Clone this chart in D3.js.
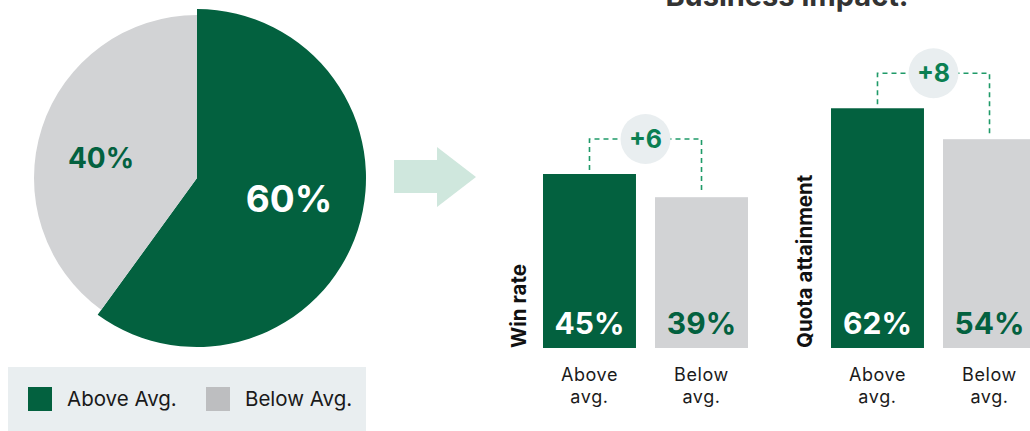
<!DOCTYPE html>
<html><head><meta charset="utf-8">
<script src="https://cdn.jsdelivr.net/npm/d3@7"></script>
<style>body{margin:0;background:#fff}svg{display:block}text{font-family:Inter,"Open Sans",sans-serif}</style>
</head><body><svg id="c" width="1030" height="431"></svg>
<script>
const pieLabels = ["Above Avg.", "Below Avg."];
const pieValues = [60, 40];
const barCategories = ["Above avg.", "Below avg."];
const winRate = [45, 39];
const quota = [62, 54];
const metricTitles = ["Win rate", "Quota attainment"];
const diffLabels = ["+6", "+8"];
const title = "Business impact:";

const GREEN = "#03613f", GREY = "#d2d3d5", LGREY = "#bdbec0", BG = "#e9eef0", DASH = "#1f9a68", TGREEN = "#0a7f52";
const svg = d3.select("#c");

// Pie
const cx = 197, cy = 178;
const pie = d3.pie().sort(null).value(d => d)(pieValues);
const radii = [169, 163];
const pg = svg.append("g").attr("transform", `translate(${cx},${cy})`);
pg.selectAll("path").data(pie).join("path")
  .attr("d", (d, i) => d3.arc().innerRadius(0).outerRadius(radii[i])(d))
  .attr("fill", (d, i) => i === 0 ? GREEN : GREY);
pg.append("text").attr("x", 92).attr("y", 34).attr("text-anchor", "middle")
  .attr("font-size", 37).attr("font-weight", 700).attr("fill", "#fff").text(pieValues[0] + "%");
pg.append("text").attr("x", -96).attr("y", -10).attr("text-anchor", "middle")
  .attr("font-size", 28).attr("font-weight", 700).attr("fill", GREEN).text(pieValues[1] + "%");

// Legend
svg.append("rect").attr("x", 8).attr("y", 367).attr("width", 358).attr("height", 64).attr("fill", BG);
const lx = [28, 206];
pieLabels.forEach((l, i) => {
  svg.append("rect").attr("x", lx[i]).attr("y", 387).attr("width", 24).attr("height", 24).attr("fill", i === 0 ? GREEN : LGREY);
  svg.append("text").attr("x", lx[i] + 39).attr("y", 406).attr("font-size", 20.5).attr("fill", "#1a1a1a").text(l);
});

// Arrow
svg.append("path").attr("d", "M394,160 L437,160 L437,147 L476,177 L437,207 L437,193 L394,193 Z").attr("fill", "#cfe7dd");

// Title
svg.append("text").attr("x", 787).attr("y", 6).attr("text-anchor", "middle").attr("font-size", 29)
  .attr("font-weight", 700).attr("fill", "#333").text(title);

// Bars
const y = d3.scaleLinear().domain([0, 90]).range([348, 0]);
const groups = [{vals: winRate, x0: 543, t: metricTitles[0], d: diffLabels[0], tx: 526},
                {vals: quota, x0: 831, t: metricTitles[1], d: diffLabels[1], tx: 812}];
groups.forEach(g => {
  const x = d3.scaleBand().domain(barCategories).range([g.x0, g.x0 + 205]).paddingInner(0.17).paddingOuter(0);
  const gg = svg.append("g");
  gg.selectAll("rect").data(g.vals).join("rect")
    .attr("x", (d, i) => x(barCategories[i])).attr("width", x.bandwidth())
    .attr("y", d => y(d)).attr("height", d => y(0) - y(d))
    .attr("fill", (d, i) => i === 0 ? GREEN : GREY);
  gg.selectAll("text.v").data(g.vals).join("text").attr("class", "v")
    .attr("x", (d, i) => x(barCategories[i]) + x.bandwidth() / 2).attr("y", 334)
    .attr("text-anchor", "middle").attr("font-size", 30).attr("font-weight", 700)
    .attr("fill", (d, i) => i === 0 ? "#fff" : GREEN).text(d => d + "%");
  barCategories.forEach((c, i) => {
    c.split(" ").forEach((p, j) => gg.append("text").attr("text-anchor", "middle")
      .attr("font-size", 18).attr("letter-spacing", 0.6).attr("fill", "#1a1a1a")
      .attr("x", x(c) + x.bandwidth() / 2).attr("y", 381 + j * 22).text(p));
  });
  // axis title
  gg.append("text").attr("transform", `translate(${g.tx},348) rotate(-90)`).attr("font-size", 20.5)
    .attr("font-weight", 700).attr("fill", "#111").text(g.t);
  // bracket
  const xa = x(barCategories[0]) + x.bandwidth() / 2, xb = x(barCategories[1]) + x.bandwidth() / 2;
  const top = y(d3.max(g.vals)) - 35;
  gg.append("path").attr("d", `M${xa},${y(g.vals[0]) - 4} L${xa},${top} L${xb},${top} L${xb},${y(g.vals[1]) - 4}`)
    .attr("fill", "none").attr("stroke", DASH).attr("stroke-width", 1.6).attr("stroke-dasharray", "5,4");
  const mx = (xa + xb) / 2;
  gg.append("circle").attr("cx", mx).attr("cy", top).attr("r", 25).attr("fill", BG);
  gg.append("text").attr("x", mx).attr("y", top + 9).attr("text-anchor", "middle").attr("font-size", 25)
    .attr("font-weight", 700).attr("fill", TGREEN).text(g.d);
});
</script></body></html>
